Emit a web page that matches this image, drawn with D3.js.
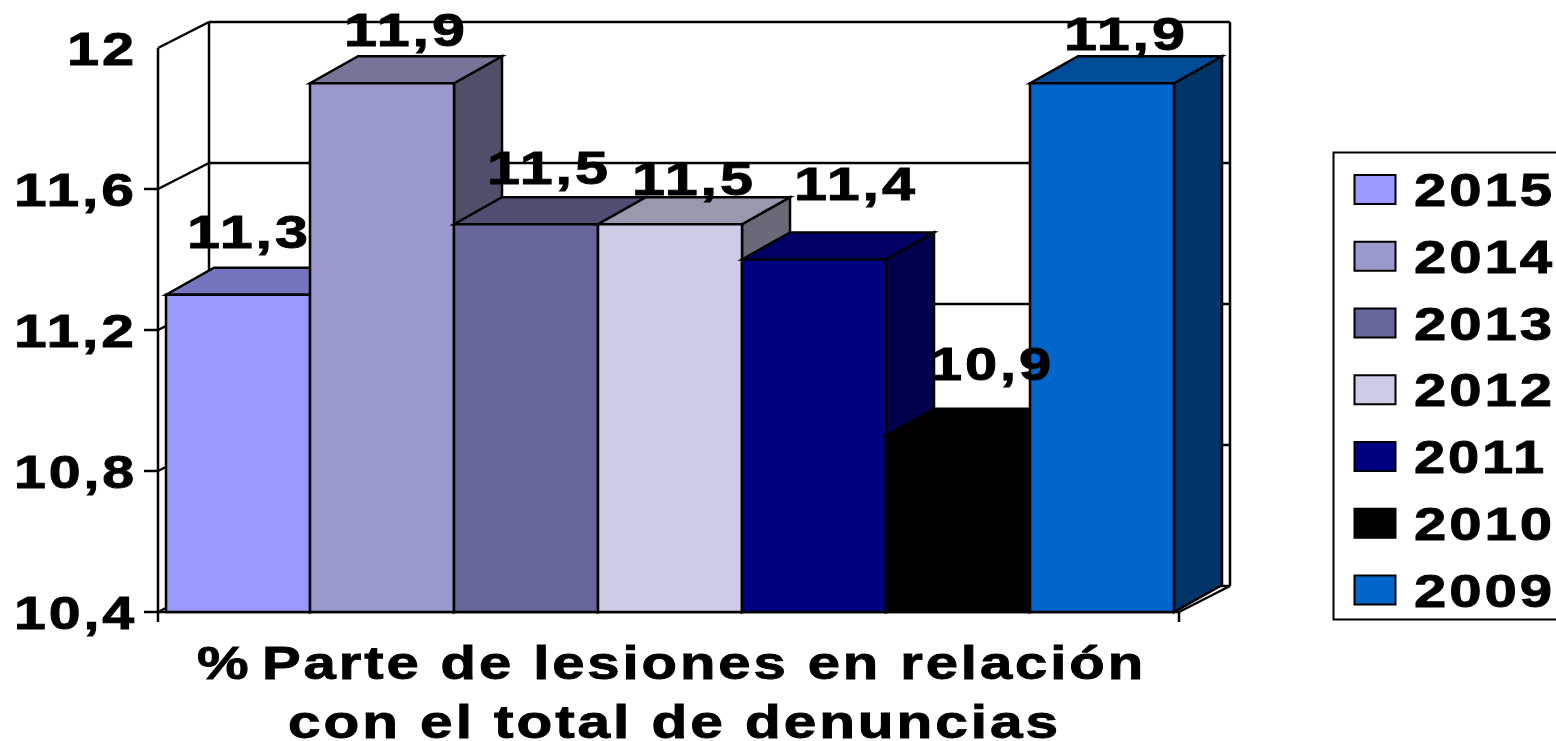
<!DOCTYPE html>
<html><head><meta charset="utf-8">
<script src="https://cdn.jsdelivr.net/npm/d3@7"></script>
<style>html,body{margin:0;padding:0;background:#fff;overflow:hidden}svg{display:block}
text{font-family:"Liberation Sans",Arial,sans-serif;font-weight:700;fill:#000;stroke:#000;stroke-width:.9px;letter-spacing:.05em}</style>
</head><body><svg id="c" width="1556" height="741"></svg>
<script>
const years=["2015","2014","2013","2012","2011","2010","2009"];
const values=[11.3,11.9,11.5,11.5,11.4,10.9,11.9];
const labels=["11,3","11,9","11,5","11,5","11,4","10,9","11,9"];
const frontColors=["#9999FF","#9999CC","#666699","#CCCCE6","#000080","#000000","#0066CC"];
const topColors=["#7575BF","#757599","#4F4F73","#9999AD","#000066","#000000","#004C99"];
const sideColors=["#5C5C99","#4F4F69","#36365C","#69697A","#00004D","#000000","#003366"];
const labelNudgeX=[-10,3,2,3,21,13,3];
const labelNudgeY=[-47,-37,-40,-29,-60,-56,-33];
const tickValues=[12,11.6,11.2,10.8,10.4];
const tickLabels=["12","11,6","11,2","10,8","10,4"];
const titleLines=["% Parte de lesiones en relación","con el total de denuncias"];

const svg=d3.select("#c");
const y=d3.scaleLinear().domain([10.4,12]).range([612,48]);
const x=d3.scaleBand().domain(years).range([166,1174]).padding(0);
const wallDx=51,wallDy=-26,barDx=48,barDy=-27;
const axisX=158,axisRight=1179;

function stretched(sel,text,left,right,base,size){
  return sel.append("text").attr("x",left).attr("y",base).attr("font-size",size)
    .attr("textLength",right-left).attr("lengthAdjust","spacingAndGlyphs").text(text);
}
const wall=svg.append("g").attr("fill","none").attr("stroke","#000").attr("stroke-width",2.5);
const ln=(a,b,c,d)=>wall.append("line").attr("x1",a).attr("y1",b).attr("x2",c).attr("y2",d);
tickValues.forEach(t=>{
  ln(axisX,y(t),axisX+wallDx,y(t)+wallDy);
  ln(axisX+wallDx,y(t)+wallDy,axisRight+wallDx,y(t)+wallDy);
});
ln(axisX,y(12),axisX,y(10.4)+10);
ln(axisX+wallDx,y(12)+wallDy,axisX+wallDx,y(10.4)+wallDy);
ln(axisRight+wallDx,y(12)+wallDy,axisRight+wallDx,y(10.4)+wallDy);
ln(axisRight,y(10.4),axisRight+wallDx,y(10.4)+wallDy);
tickValues.slice(1).forEach(t=>ln(axisX-14,y(t),axisX,y(t)));
ln(axisX,y(10.4),axisRight,y(10.4));
ln(axisRight,y(10.4),axisRight,y(10.4)+10);

const bars=svg.append("g").attr("stroke","#000").attr("stroke-width",2.5).attr("stroke-linejoin","miter");
years.forEach((yr,i)=>{
  const l=x(yr),r=l+x.bandwidth(),t=y(values[i]),b=y(10.4);
  const g=bars.append("g");
  g.append("path").attr("fill",sideColors[i])
    .attr("d",d3.line()([[r,t],[r+barDx,t+barDy],[r+barDx,b+barDy],[r,b]])+"Z");
  g.append("path").attr("fill",topColors[i])
    .attr("d",d3.line()([[l,t],[l+barDx,t+barDy],[r+barDx,t+barDy],[r,t]])+"Z");
  g.append("rect").attr("x",l).attr("y",t).attr("width",x.bandwidth()).attr("height",b-t).attr("fill",frontColors[i]);
});

const tg=svg.append("g");
tickValues.forEach((t,i)=>{
  const s=tickLabels[i];
  stretched(tg,s,s.length===2?67:14,137,y(t)+16.5,47);
});
const dl=svg.append("g");
years.forEach((yr,i)=>{
  const l=x(yr)+labelNudgeX[i]+31, base=y(values[i])+labelNudgeY[i];
  stretched(dl,labels[i],l,l+124,base,47);
});
const t0=stretched(svg,"",197,1146,679,47);
t0.append("tspan").text(titleLines[0].slice(0,2));
t0.append("tspan").attr("dx",-7).text(titleLines[0].slice(2));
stretched(svg,titleLines[1],288,1061,738,47);
const leg=svg.append("g");
leg.append("rect").attr("x",1333.5).attr("y",152.5).attr("width",260).attr("height",467)
  .attr("fill","#fff").attr("stroke","#000").attr("stroke-width",2);
const ly=d3.scalePoint().domain(years).range([189.5,590]);
years.forEach((yr,i)=>{
  leg.append("rect").attr("x",1354.5).attr("y",ly(yr)-14.5).attr("width",41).attr("height",29)
    .attr("fill",frontColors[i]).attr("stroke","#000").attr("stroke-width",2);
  stretched(leg,yr,1414,yr==="2011"?1547:1555,ly(yr)+16.5,47);
});
</script></body></html>
